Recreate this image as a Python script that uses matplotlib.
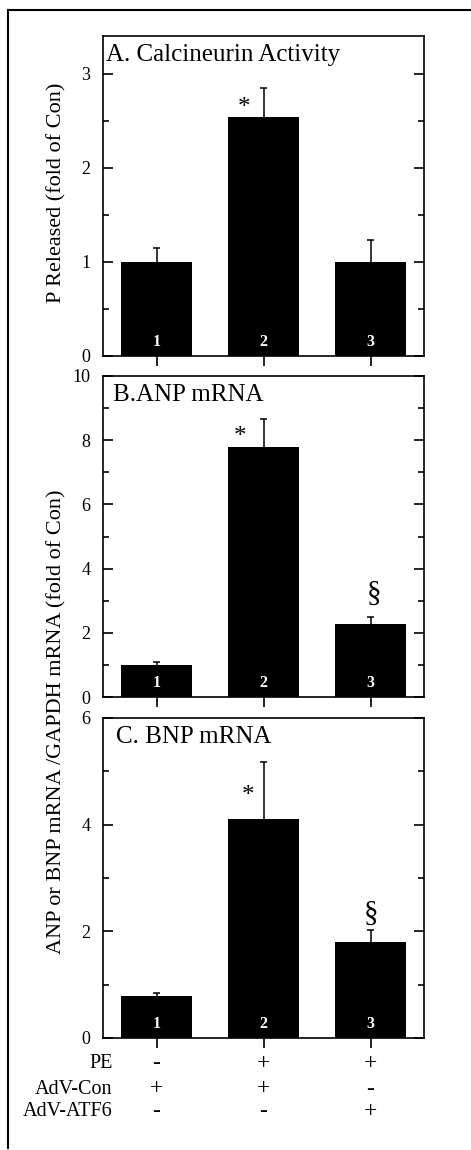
import numpy as np
import matplotlib
matplotlib.use("Agg")
from matplotlib import pyplot as plt
from matplotlib.lines import Line2D

plt.rcParams['font.family'] = ['Liberation Serif', 'DejaVu Serif']

# data
groups = [1, 2, 3]
calcineurin = [1.0, 2.54, 1.0]
calcineurin_err = [0.15, 0.31, 0.23]
anp = [1.0, 7.79, 2.26]
anp_err = [0.09, 0.88, 0.23]
bnp = [0.79, 4.10, 1.80]
bnp_err = [0.06, 1.08, 0.23]

pe_row = ['-', '+', '+']
advcon_row = ['+', '+', '-']
advatf6_row = ['-', '-', '+']

W, H = 471, 1150
fig = plt.figure(figsize=(W / 100, H / 100), dpi=100)


def px_axes(left, top, right, bottom):
    return fig.add_axes([left / W, 1 - bottom / H, (right - left) / W, (bottom - top) / H])


def draw_panel(ax, vals, errs, ymax, major, minor, title, title_x):
    vals = np.asarray(vals)
    tops = vals + np.asarray(errs)
    g = np.asarray(groups, dtype=float)
    ax.bar(g, vals, width=0.67, color='black', zorder=2)
    # upper-only error bars
    ax.vlines(g, vals, tops, color='black', lw=1.1, zorder=1)
    ax.hlines(tops, g - 0.03, g + 0.03, color='black', lw=1.1, zorder=1)
    ax.set_xlim(0.5, 3.5)
    ax.set_ylim(0, ymax)
    ax.set_yticks(np.arange(0, ymax + 0.01, major))
    ax.set_yticks(np.arange(minor, ymax, minor), minor=True)
    ax.set_xticks(groups)
    ax.set_xticklabels([])
    ax.tick_params(axis='y', which='both', direction='in', left=True, right=True,
                   width=1.2, labelsize=13, pad=9)
    ax.tick_params(axis='y', which='major', length=7)
    ax.tick_params(axis='y', which='minor', length=4.5)
    ax.tick_params(axis='x', direction='out', length=7, width=1.2, top=False)
    for s in ax.spines.values():
        s.set_linewidth(1.2)
    ax.text(title_x, 0.94, title, transform=ax.transAxes, fontsize=18,
            ha='left', va='center')
    for k in groups:
        ax.text(k, 0.045, str(k), transform=ax.get_xaxis_transform(), color='white',
                fontsize=11.5, fontweight='bold', ha='center', va='center')


ax_a = px_axes(103, 36, 424, 356)
draw_panel(ax_a, calcineurin, calcineurin_err, 3.4, 1, 0.5,
           'A. Calcineurin Activity', 0.01)
ax_a.text(1.82, 2.64, '*', fontsize=18, ha='center', va='center')

ax_b = px_axes(103, 376, 424, 697)
draw_panel(ax_b, anp, anp_err, 10, 2, 1, 'B.ANP mRNA', 0.03)
ax_b.text(1.78, 8.1, '*', fontsize=18, ha='center', va='center')
ax_b.text(3.03, 3.2, '§', fontsize=21, ha='center', va='center')

ax_c = px_axes(103, 718, 424, 1038)
draw_panel(ax_c, bnp, bnp_err, 6, 2, 1, 'C. BNP mRNA', 0.04)
ax_c.text(1.86, 4.53, '*', fontsize=18, ha='center', va='center')
ax_c.text(3.0, 2.33, '§', fontsize=21, ha='center', va='center')

# y labels
fig.text(57 / W, 1 - 193 / H, 'P Released (fold of Con)', rotation=90,
         fontsize=16, ha='center', va='center')
fig.text(57 / W, 1 - 722 / H, 'ANP or BNP mRNA /GAPDH mRNA (fold of Con)',
         rotation=90, fontsize=16, ha='center', va='center')

# treatment table
rows = [('PE', pe_row, 1064), ('AdV-Con', advcon_row, 1089), ('AdV-ATF6', advatf6_row, 1112)]
xt = ax_c.get_xaxis_transform()
for name, signs, ypx in rows:
    yf = (1038 - ypx) / 320
    ax_c.text(0.03, yf, name, transform=ax_c.transAxes, fontsize=14.5,
              ha='right', va='center')
    for k, s in zip(groups, signs):
        ax_c.text(k, yf, s, transform=xt, fontsize=17, ha='center', va='center')

# outer frame (top and left)
fig.add_artist(Line2D([8 / W, 1.0], [1 - 10 / H, 1 - 10 / H], color='black', lw=1.5,
                      transform=fig.transFigure))
fig.add_artist(Line2D([8 / W, 8 / W], [1 - 10 / H, 1 - 1148 / H], color='black', lw=1.5,
                      transform=fig.transFigure))

fig.savefig('out.png', dpi=100)
